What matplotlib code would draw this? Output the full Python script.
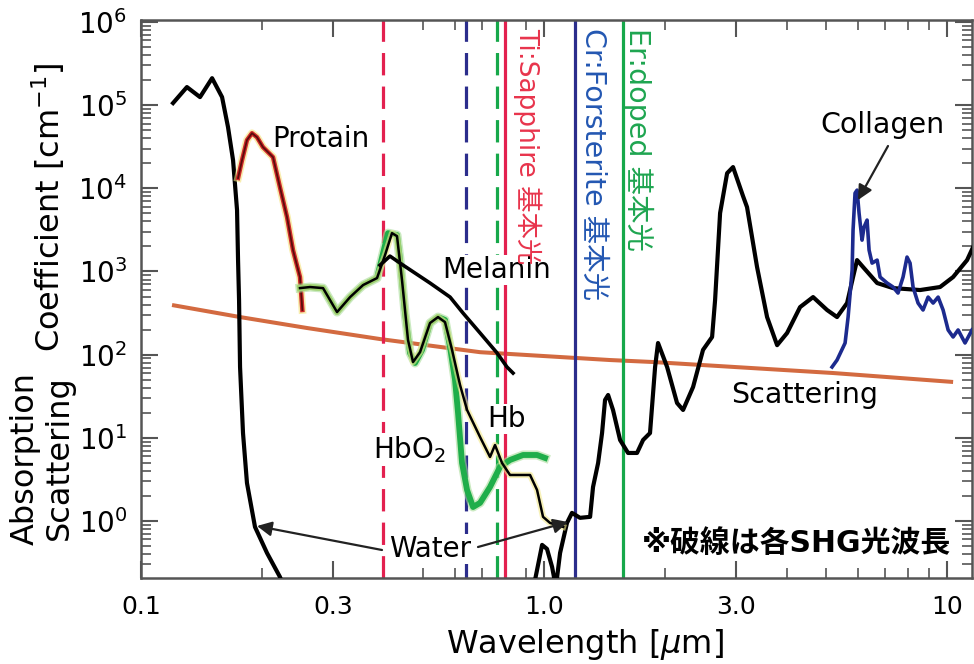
import matplotlib
matplotlib.use('Agg')
import matplotlib.pyplot as plt
import matplotlib.patheffects as pe
from matplotlib.ticker import FixedLocator, FixedFormatter, LogLocator, NullFormatter, LogFormatterSciNotation
import numpy as np

plt.rcParams['font.family'] = ['DejaVu Sans', 'Noto Sans CJK JP']

# ---------------- data ----------------
water_uv_wl = [0.1201, 0.1300, 0.1401, 0.1501, 0.1589, 0.1644, 0.1692, 0.1731, 0.1741, 0.1751,
               0.1761, 0.1791, 0.1832, 0.1918, 0.2054, 0.2212, 0.2277]
water_uv_abs = [1.06e5, 1.65e5, 1.25e5, 2.11e5, 1.25e5, 5.44e4, 2.18e4, 5.47e3, 1.37e3, 453,
                71, 11.4, 2.86, 0.847, 0.412, 0.212, 0.148]

water_ir_wl = [0.939, 0.989, 1.017, 1.047, 1.070, 1.096, 1.140, 1.173, 1.228, 1.301, 1.323, 1.362,
               1.393, 1.417, 1.442, 1.483, 1.544, 1.616, 1.701, 1.761, 1.832, 1.886, 1.918, 2.020,
               2.138, 2.213, 2.343, 2.480, 2.612, 2.657, 2.734, 2.846, 2.944, 3.117, 3.189, 3.377,
               3.576, 3.787, 4.009, 4.318, 4.651, 5.038, 5.333, 5.648, 5.844, 5.979, 6.188, 6.706,
               7.345, 8.570, 9.607, 10.35, 11.21, 11.6]
water_ir_abs = [0.148, 0.515, 0.461, 0.280, 0.160, 0.412, 0.946, 1.25, 1.09, 1.12, 2.56, 4.98,
                11.4, 28.5, 32.7, 21.6, 9.41, 6.57, 6.57, 9.41, 11.4, 71.0, 138, 71,
                26.2, 21.6, 40.8, 114, 163, 453, 5.03e3, 1.52e4, 1.80e4, 8.06e3, 5.94e3, 1.13e3,
                283, 130, 182, 373, 492, 344, 283, 417, 857, 1.37e3, 1.13e3, 726,
                631, 598, 650, 857, 1.37e3, 1.96e3]

protein_wl = [0.1741, 0.1781, 0.1832, 0.1885, 0.1940, 0.2007, 0.2126, 0.2212, 0.2303, 0.2383, 0.2480, 0.2514]
protein_abs = [1.33e4, 2.18e4, 3.80e4, 4.60e4, 4.12e4, 3.13e4, 2.37e4, 1.03e4, 4.51e3, 1.81e3, 857, 344]

hb_wl = [0.2480, 0.2627, 0.2829, 0.3065, 0.3302, 0.3557, 0.3851, 0.4031, 0.4195, 0.4317, 0.4442,
         0.4597, 0.4731, 0.4924, 0.5213, 0.5457, 0.5679, 0.5912, 0.6189, 0.6441, 0.6939, 0.7345,
         0.7557, 0.7866, 0.8233, 0.9232, 0.9608, 0.9943, 1.035, 1.115]
hb_abs = [631, 650, 631, 325, 492, 687, 833, 1.57e3, 2.89e3, 2.66e3, 788,
          150, 81.5, 107, 240, 283, 246, 114, 43.1, 21.6, 10.2, 5.88,
          8.19, 4.98, 3.57, 3.57, 2.36, 1.12, 0.946, 0.847]

hbo2_wl = [0.2480, 0.2627, 0.2829, 0.3065, 0.3302, 0.3557, 0.3851, 0.4100, 0.4317, 0.4393, 0.4519,
           0.4650, 0.4785, 0.4981, 0.5213, 0.5457, 0.5679, 0.5846, 0.6014, 0.6118, 0.6259, 0.6441,
           0.6666, 0.6939, 0.7345, 0.7776, 0.8233, 0.8870, 0.9608, 1.0058]
hbo2_abs = [631, 650, 631, 325, 492, 687, 833, 2.89e3, 2.74e3, 1.37e3, 316,
            105, 79.3, 114, 240, 283, 261, 123, 49.5, 19.9, 4.98, 2.36,
            1.47, 1.65, 2.56, 4.46, 5.41, 6.21, 6.21, 5.72]

melanin_wl = [0.3917, 0.4147, 0.4393, 0.5213, 0.5846, 0.6295, 0.6939, 0.7642, 0.8091, 0.8377]
melanin_abs = [1.19e3, 1.53e3, 1.26e3, 726, 492, 316, 182, 105, 71, 60]

collagen_wl = [5.183, 5.333, 5.584, 5.681, 5.813, 5.844, 5.911, 5.979, 6.048, 6.152, 6.223, 6.331,
               6.404, 6.515, 6.706, 6.820, 7.099, 7.345, 7.556, 7.776, 7.955, 8.094, 8.233, 8.472,
               8.717, 8.973, 9.234, 9.502, 9.775, 10.06, 10.35, 10.65, 11.08, 11.53]
collagen_abs = [71.0, 86.1, 138, 283, 1.04e3, 3.15e3, 8.75e3, 9.51e3, 5.03e3, 2.38e3, 3.42e3, 4.15e3,
                1.81e3, 1.26e3, 1.37e3, 857, 726, 650, 550, 857, 1.49e3, 1.26e3, 650, 417,
                344, 492, 417, 492, 344, 198, 163, 198, 138, 198]

scatter_wl = [0.1194, 0.1761, 0.2582, 0.3917, 0.6939, 1.458, 1.864, 5.213, 10.35]
scatter_val = [395, 283, 209, 154, 107, 86.1, 81.5, 60.1, 46.9]

# laser lines (SHG dashed, fundamental solid)
laser_names = ['Ti:Sapphire 基本光', 'Cr:Forsterite 基本光', 'Er:doped 基本光']
laser_fund = [0.800, 1.194, 1.570]
laser_shg = [0.3985, 0.640, 0.7645]
laser_line_colors = ['#e3204f', '#2b2d8c', '#16a84a']
laser_text_colors = ['#e8344c', '#2357b2', '#1ea550']

xtick_vals = [0.1, 0.3, 1.0, 3.0, 10]
xtick_labels = ['0.1', '0.3', '1.0', '3.0', '10']
ytick_vals = [1e0, 1e1, 1e2, 1e3, 1e4, 1e5, 1e6]

# ---------------- figure ----------------
W, H = 974, 664
fig = plt.figure(figsize=(W / 100, H / 100), dpi=100)
L, R, T, B = 141, 972, 20, 578
ax = fig.add_axes([L / W, 1 - B / H, (R - L) / W, (B - T) / H])
ax.set_xscale('log')
ax.set_yscale('log')
ax.set_xlim(0.1, 11.53)
ax.set_ylim(0.206, 1.057e6)


def P(x, y):
    return (x / W, 1 - y / H)


# scattering
ax.plot(scatter_wl, scatter_val, color='#d36a40', lw=2.9, zorder=1, solid_capstyle='butt')

# vertical laser lines
for f, s, c in zip(laser_fund, laser_shg, laser_line_colors):
    ax.axvline(s, color=c, lw=2.3, ls=(0, (7, 3.5)), zorder=2)
    ax.axvline(f, color=c, lw=2.3, zorder=2)

# curves
ax.plot(water_uv_wl, water_uv_abs, color='black', lw=3.0, zorder=3, solid_joinstyle='round')
ax.plot(water_ir_wl, water_ir_abs, color='black', lw=3.0, zorder=3, solid_joinstyle='round')

ax.plot(protein_wl, protein_abs, color='#5a0c0c', lw=1.3, zorder=4,
        path_effects=[pe.Stroke(linewidth=5.5, foreground='#f4e27a', alpha=0.6),
                      pe.Stroke(linewidth=3.2, foreground='#cf2a2a'), pe.Normal()])

ax.plot(hbo2_wl, hbo2_abs, color='#1fae4a', lw=4.2, zorder=4, solid_joinstyle='round',
        path_effects=[pe.Stroke(linewidth=6.5, foreground='#a8dc98', alpha=0.6), pe.Normal()])
ax.plot(hb_wl, hb_abs, color='black', lw=1.8, zorder=5, solid_joinstyle='round',
        path_effects=[pe.Stroke(linewidth=4.5, foreground='#f2e88a', alpha=0.6), pe.Normal()])
ax.plot(melanin_wl, melanin_abs, color='black', lw=2.6, zorder=5, solid_joinstyle='round')

ax.plot(collagen_wl, collagen_abs, color='#1c2a8e', lw=2.6, zorder=5, solid_joinstyle='round')

# ticks
ax.xaxis.set_major_locator(FixedLocator(xtick_vals))
ax.xaxis.set_major_formatter(FixedFormatter(xtick_labels))
ax.xaxis.set_minor_locator(LogLocator(base=10, subs=np.arange(2, 10), numticks=20))
ax.xaxis.set_minor_formatter(NullFormatter())
ax.yaxis.set_major_locator(FixedLocator(ytick_vals))
ax.yaxis.set_major_formatter(LogFormatterSciNotation())
ax.yaxis.set_minor_locator(LogLocator(base=10, subs=np.arange(2, 10), numticks=20))
ax.yaxis.set_minor_formatter(NullFormatter())
ax.tick_params(which='both', direction='in', top=True, right=True, color='#555555')
ax.tick_params(which='major', length=12, width=1.5)
ax.tick_params(which='minor', length=7, width=1.2)
ax.tick_params(axis='x', which='major', labelsize=18, pad=12)
ax.tick_params(axis='y', which='major', labelsize=20, pad=10)
for sp in ax.spines.values():
    sp.set_color('#555555')
    sp.set_linewidth(1.8)

# axis labels
fig.text(*P(585, 653), 'Wavelength [$\\mu$m]', fontsize=23, ha='center', va='baseline')
fig.text(*P(25, 545), 'Absorption', fontsize=23, rotation=90, ha='center', va='bottom')
fig.text(*P(59, 540), 'Scattering', fontsize=23, rotation=90, ha='center', va='bottom')
fig.text(*P(48, 352), 'Coefficient [cm$^{-1}$]', fontsize=23, rotation=90, ha='center', va='bottom')

# curve labels
wbox = dict(facecolor='white', edgecolor='none', pad=1.0)
ax.text(*P(321, 147), 'Protain', transform=fig.transFigure, fontsize=20, ha='center', va='baseline', zorder=6)
ax.text(*P(497, 278), 'Melanin', transform=fig.transFigure, fontsize=20, ha='center', va='baseline',
        bbox=wbox, zorder=6)
ax.text(*P(409, 458), 'HbO$_2$', transform=fig.transFigure, fontsize=20, ha='center', va='baseline',
        bbox=wbox, zorder=6)
ax.text(*P(507, 427), 'Hb', transform=fig.transFigure, fontsize=20, ha='center', va='baseline',
        bbox=wbox, zorder=6)
ax.text(*P(430, 557), 'Water', transform=fig.transFigure, fontsize=20, ha='center', va='baseline',
        bbox=wbox, zorder=6)
ax.text(*P(805, 403), 'Scattering', transform=fig.transFigure, fontsize=20.5, ha='center', va='baseline', zorder=6)
ax.text(*P(882, 133), 'Collagen', transform=fig.transFigure, fontsize=20.5, ha='center', va='baseline', zorder=6)
ax.text(*P(797, 552), '※破線は各SHG光波長', transform=fig.transFigure, fontsize=21.5, ha='center',
        va='baseline', fontweight='bold', zorder=6)

# laser labels (vertical)
lab_x = [527, 593, 638]
lab_size = [19, 20.5, 20.5]
for name, c, xx, fs in zip(laser_names, laser_text_colors, lab_x, lab_size):
    ax.text(*P(xx, 28), name, transform=fig.transFigure, fontsize=fs, color=c, rotation=-90,
            ha='center', va='top', zorder=6)

# arrows
aprops = dict(arrowstyle='-|>', color='#222222', lw=1.6, mutation_scale=22, shrinkA=0, shrinkB=0)
ax.annotate('', xy=P(257, 526), xytext=P(382, 550), xycoords='figure fraction',
            textcoords='figure fraction', arrowprops=aprops, zorder=6)
ax.annotate('', xy=P(568, 522), xytext=P(478, 547), xycoords='figure fraction',
            textcoords='figure fraction', arrowprops=aprops, zorder=6)
ax.annotate('', xy=P(858, 200), xytext=P(888, 146), xycoords='figure fraction',
            textcoords='figure fraction', arrowprops=aprops, zorder=6)

fig.savefig('out.png', dpi=100)
